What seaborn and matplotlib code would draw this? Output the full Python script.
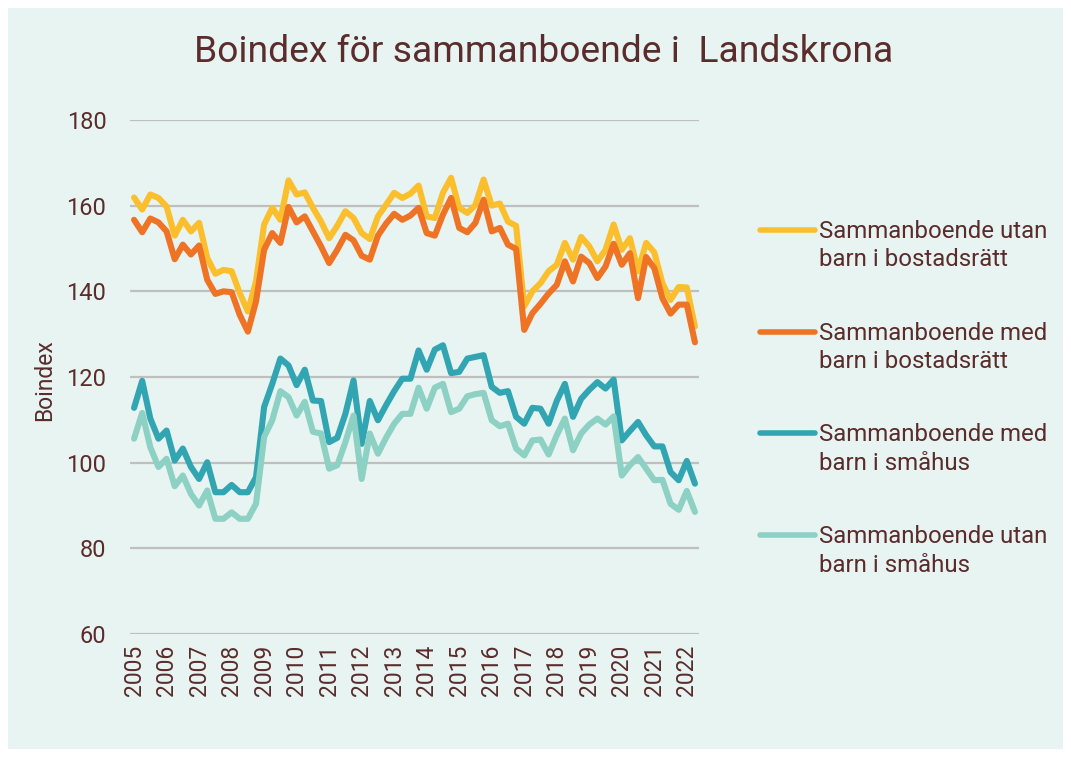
import matplotlib
matplotlib.use("Agg")
import matplotlib.pyplot as plt
import numpy as np
import pandas as pd
import seaborn as sns
from matplotlib.patches import Rectangle
from matplotlib.lines import Line2D

# Quarterly index, 2005 Q1 - 2022 Q2
years = list(range(2005, 2023))
year_labels = [str(y) for y in years]

utan_barn_br = [161.9, 159.1, 162.6, 161.8, 159.8, 153.0, 156.7, 154.0, 156.0, 147.8,
                144.1, 145.0, 144.7, 139.6, 135.3, 142.3, 155.6, 159.5, 156.7, 165.9,
                162.6, 163.1, 159.5, 156.3, 152.4, 155.3, 158.7, 157.1, 153.6, 152.2,
                157.5, 160.2, 163.0, 161.8, 162.8, 164.7, 157.5, 157.1, 163.0, 166.5,
                159.5, 158.3, 160.2, 166.1, 160.0, 160.5, 156.3, 155.3, 136.5, 140.0,
                141.9, 144.7, 146.2, 151.3, 147.4, 152.7, 150.5, 147.0, 149.7, 155.6,
                149.7, 152.4, 144.7, 151.3, 149.1, 141.9, 138.0, 141.0, 140.9, 131.8]

med_barn_br = [156.7, 153.8, 157.0, 156.1, 154.0, 147.5, 150.9, 148.6, 150.7, 142.7,
               139.4, 140.0, 139.8, 134.5, 130.6, 137.6, 149.7, 153.6, 151.3, 159.7,
               156.1, 157.5, 154.0, 150.5, 146.6, 149.7, 153.2, 151.9, 148.3, 147.4,
               153.0, 155.8, 158.1, 156.7, 157.7, 159.5, 153.6, 153.0, 157.9, 161.8,
               154.8, 153.8, 156.0, 161.4, 154.0, 154.8, 150.9, 149.9, 131.0, 134.9,
               137.1, 139.5, 141.5, 147.0, 142.3, 148.1, 146.6, 143.1, 145.8, 151.1,
               146.2, 148.9, 138.4, 148.0, 145.4, 138.4, 134.8, 136.9, 136.9, 128.1]

med_barn_sh = [112.8, 119.1, 110.3, 105.6, 107.5, 100.5, 103.3, 99.0, 96.2, 100.1,
               93.1, 93.1, 94.8, 93.1, 93.1, 96.6, 113.0, 118.4, 124.3, 122.7,
               118.1, 121.7, 114.5, 114.4, 104.8, 105.8, 111.4, 119.2, 104.4, 114.4,
               109.9, 113.4, 116.7, 119.6, 119.6, 126.2, 121.7, 126.4, 127.4, 120.9,
               121.2, 124.3, 124.7, 125.1, 117.7, 116.3, 116.7, 110.7, 109.1, 112.8,
               112.6, 109.1, 114.4, 118.4, 110.7, 114.9, 117.0, 118.8, 117.3, 119.4,
               105.2, 107.4, 109.5, 106.4, 103.8, 103.8, 97.8, 95.9, 100.4, 95.1]

utan_barn_sh = [105.6, 111.6, 103.6, 99.0, 100.9, 94.5, 97.0, 92.7, 90.0, 93.5,
                86.9, 86.9, 88.4, 86.9, 86.9, 90.4, 106.0, 109.9, 116.7, 115.3,
                111.0, 114.2, 107.2, 106.8, 98.6, 99.4, 104.8, 111.0, 96.2, 106.8,
                102.1, 105.8, 109.1, 111.4, 111.4, 117.5, 112.6, 117.5, 118.4, 111.8,
                112.6, 115.5, 116.0, 116.3, 109.9, 108.5, 109.1, 103.3, 101.7, 105.2,
                105.4, 101.9, 106.4, 110.3, 102.9, 106.8, 108.9, 110.3, 108.9, 110.8,
                97.0, 99.4, 101.3, 98.6, 95.9, 96.0, 90.4, 89.0, 93.4, 88.5]

series_labels = [
    ("Sammanboende utan", "barn i bostadsrätt"),
    ("Sammanboende med", "barn i bostadsrätt"),
    ("Sammanboende med", "barn i småhus"),
    ("Sammanboende utan", "barn i småhus"),
]
series_values = [utan_barn_br, med_barn_br, med_barn_sh, utan_barn_sh]
colors = ["#FBBF2D", "#EE7325", "#31A5B1", "#8DD0C4"]

BG = "#E8F4F1"
TEXT = "#5A2C2C"
GRID = "#BFBFBF"

names = [" ".join(lbl) for lbl in series_labels]
frames = []
for name, vals in zip(names, series_values):
    frames.append(pd.DataFrame({"kvartal": np.arange(len(vals)), "Boindex": vals, "serie": name}))
df = pd.concat(frames, ignore_index=True)

sns.set_theme(style="white")
plt.rcParams["font.family"] = ["Roboto", "DejaVu Sans"]

W, H = 1071, 757
fig = plt.figure(figsize=(W / 100, H / 100), dpi=100)
fig.patch.set_facecolor("white")
fig.add_artist(Rectangle((8 / W, 8 / H), 1 - 16 / W, 1 - 16 / H, transform=fig.transFigure,
                         facecolor=BG, edgecolor="none", zorder=-10))

ax = fig.add_axes([130 / W, 1 - 634 / H, 569 / W, 514 / H])
ax.set_facecolor("none")

sns.lineplot(data=df, x="kvartal", y="Boindex", hue="serie", hue_order=names,
             palette=dict(zip(names, colors)), linewidth=4.4, legend=False,
             sort=False, ax=ax)
for ln in ax.lines:
    ln.set_solid_capstyle("round")
    ln.set_solid_joinstyle("round")

ax.set_ylim(60, 180)
ax.set_yticks(range(60, 181, 20))
ax.set_xlim(-0.5, 69.5)
ax.set_xticks(range(0, 70, 4))
ax.set_xticklabels(year_labels, rotation=90, fontsize=16.5, color=TEXT)
ax.set_yticklabels([str(v) for v in range(60, 181, 20)], fontsize=17, color=TEXT)
ax.tick_params(axis="both", length=0)
ax.tick_params(axis="y", pad=17)
ax.tick_params(axis="x", pad=8)
ax.grid(axis="y", color=GRID, linewidth=1.6)
ax.grid(axis="x", visible=False)
ax.set_axisbelow(True)
for sp in ax.spines.values():
    sp.set_visible(False)

ax.set_xlabel("")
ax.set_ylabel("Boindex", fontsize=16.5, color=TEXT)
ax.yaxis.set_label_coords((56 - 130) / 569, (634 - 380) / 514)

fig.text(544 / W, 1 - 52 / H, "Boindex för sammanboende i  Landskrona",
         ha="center", va="center", fontsize=26.8, color=TEXT)

# Legend: handle aligned with the first text line of each entry
first_baselines = [238, 340, 441, 543]
line_gap = 28.5
for (l1, l2), col, yb in zip(series_labels, colors, first_baselines):
    yc = yb - 8
    fig.add_artist(Line2D([760 / W, 815 / W], [1 - yc / H, 1 - yc / H],
                          transform=fig.transFigure, color=col, linewidth=4,
                          solid_capstyle="round"))
    fig.text(819 / W, 1 - yb / H, l1, ha="left", va="baseline", fontsize=17.3, color=TEXT)
    fig.text(819 / W, 1 - (yb + line_gap) / H, l2, ha="left", va="baseline", fontsize=17.3, color=TEXT)

fig.savefig("out.png", dpi=100, facecolor=fig.get_facecolor())
